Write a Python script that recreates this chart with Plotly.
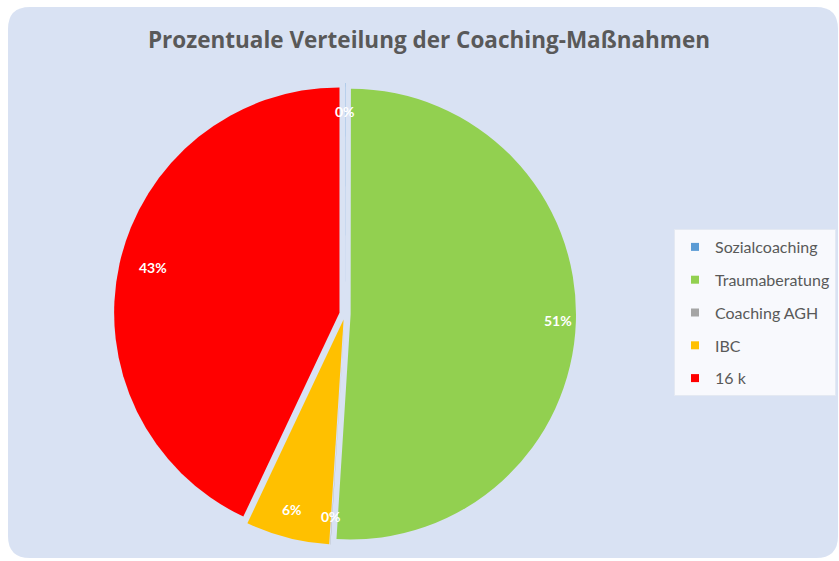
import math
import plotly.graph_objects as go

# ---- data ----
labels = ["Sozialcoaching", "Traumaberatung", "Coaching AGH", "IBC", "16 k"]
values = [0.02, 51, 0.02, 6, 43]
colors = ["#5B9BD5", "#92D050", "#A5A5A5", "#FFC000", "#FF0000"]
title_text = "Prozentuale Verteilung der Coaching-Maßnahmen"

W, H = 839, 561


def px(x):
    return x / W


def py(y):
    return 1 - y / H


# pie geometry (pixels)
CX, CY, PULL = 345, 314, 0.025
D = 462  # domain size
R = D / 2 / (1 + PULL)

# rounded background panel path (paper coordinates)
x0, x1, y0, y1, r = 8, 838, 7, 558, 22
path = (
    f"M {px(x0 + r)},{py(y0)} L {px(x1 - r)},{py(y0)} "
    f"Q {px(x1)},{py(y0)} {px(x1)},{py(y0 + r)} "
    f"L {px(x1)},{py(y1 - r)} Q {px(x1)},{py(y1)} {px(x1 - r)},{py(y1)} "
    f"L {px(x0 + r)},{py(y1)} Q {px(x0)},{py(y1)} {px(x0)},{py(y1 - r)} "
    f"L {px(x0)},{py(y0 + r)} Q {px(x0)},{py(y0)} {px(x0 + r)},{py(y0)} Z"
)

fig = go.Figure()

fig.add_trace(
    go.Pie(
        labels=labels,
        values=values,
        sort=False,
        direction="clockwise",
        rotation=0,
        pull=[PULL] * len(values),
        marker=dict(colors=colors, line=dict(width=0)),
        textinfo="none",
        domain=dict(x=[px(CX - D / 2), px(CX + D / 2)],
                    y=[py(CY + D / 2), py(CY - D / 2)]),
        showlegend=False,
        hoverinfo="label+percent",
    )
)

# data labels near the outer edge of each slice (computed from the values)
total = sum(values)
annotations = []
cum = 0.0
for v in values:
    mid = (cum + v / 2) / total * 2 * math.pi
    cum += v
    rr = R * (0.92 + PULL)
    ax = CX + rr * math.sin(mid)
    ay = CY - rr * math.cos(mid)
    annotations.append(
        dict(x=px(ax), y=py(ay), xref="paper", yref="paper",
             text=f"{round(v / total * 100):.0f}%", showarrow=False,
             font=dict(family="Lato", size=14, color="white", weight="bold"))
    )

# legend entries (one per category)
for lab, col in zip(labels, colors):
    fig.add_trace(
        go.Scatter(
            x=[None], y=[None], mode="markers",
            marker=dict(symbol="square", size=8, color=col),
            name=lab, legendgroup=lab, showlegend=True,
        )
    )

fig.update_layout(
    width=W,
    height=H,
    margin=dict(l=0, r=0, t=0, b=0),
    paper_bgcolor="white",
    plot_bgcolor="rgba(0,0,0,0)",
    xaxis=dict(visible=False),
    yaxis=dict(visible=False),
    title=dict(
        text=title_text,
        x=px(429), y=py(40), xanchor="center", yanchor="middle",
        font=dict(family="Open Sans", size=22.5, color="#595959", weight="bold"),
    ),
    legend=dict(
        x=px(674), y=py(229), xanchor="left", yanchor="top",
        bgcolor="#F8F9FD",
        bordercolor="#E4E9F2",
        borderwidth=1,
        font=dict(family="Lato", size=16, color="#595959"),
        tracegroupgap=9,
        itemclick=False,
    ),
    annotations=annotations,
    shapes=[
        dict(type="path", path=path, xref="paper", yref="paper",
             fillcolor="#D9E2F3", line=dict(width=0), layer="below")
    ],
)

fig.write_html("out.html")
